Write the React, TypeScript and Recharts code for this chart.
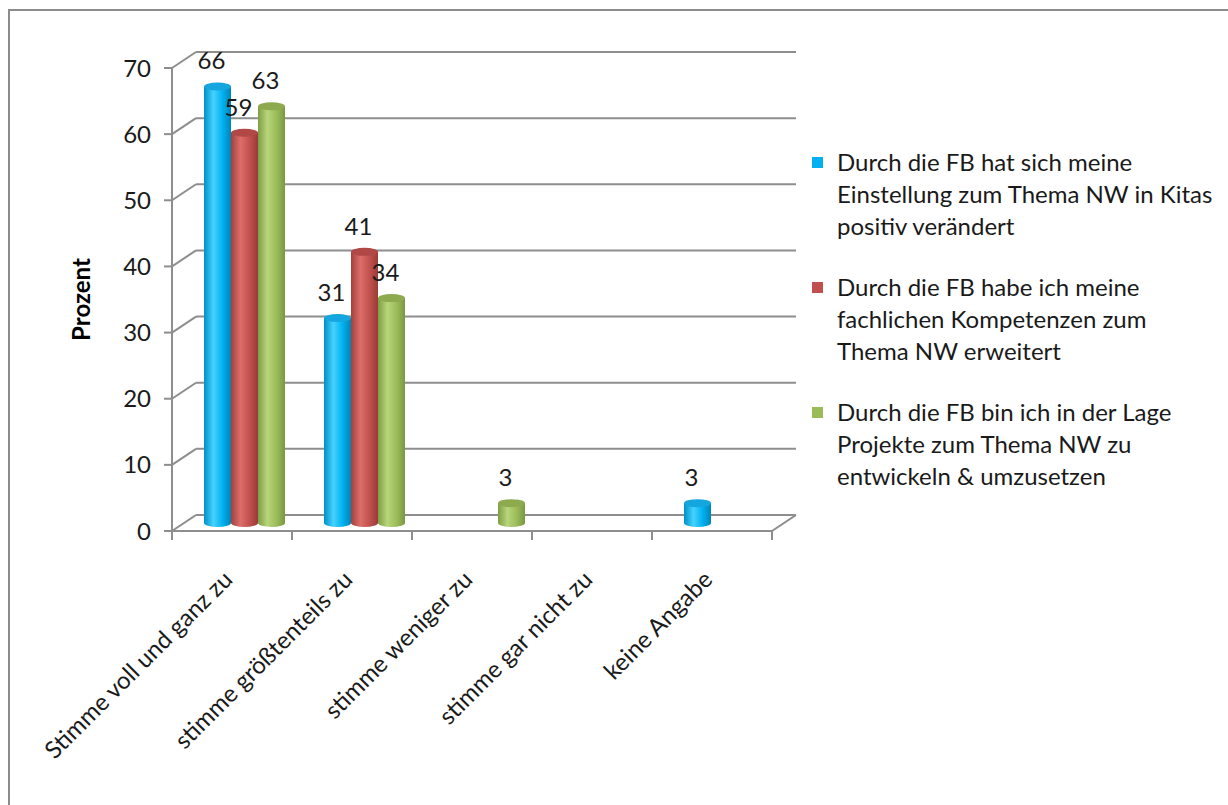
import { BarChart, Bar, XAxis, YAxis, CartesianGrid, Legend, LabelList } from "recharts";

const categories = [
  "Stimme voll und ganz zu",
  "stimme größtenteils zu",
  "stimme weniger zu",
  "stimme gar nicht zu",
  "keine Angabe",
];

// Prozentwerte je Aussage
const einstellung = [66, 31, 0, 0, 3];
const kompetenzen = [59, 41, 0, 0, 0];
const projekte = [63, 34, 3, 0, 0];

const legendLines = [
  ["Durch die FB hat sich meine", "Einstellung zum Thema NW in Kitas", "positiv verändert"],
  ["Durch die FB habe ich meine", "fachlichen Kompetenzen zum", "Thema NW erweitert"],
  ["Durch die FB bin ich in der Lage", "Projekte zum Thema NW zu", "entwickeln & umzusetzen"],
];

const yTicks = [0, 10, 20, 30, 40, 50, 60, 70];

const data = categories.map((category, i) => ({
  category,
  einstellung: einstellung[i],
  kompetenzen: kompetenzen[i],
  projekte: projekte[i],
}));

const FONT = "Lato, 'Open Sans', sans-serif";
const FS = 24;
const TEXT = "#1a1a1a";
const GRID = "#8e8e8e";
const COLORS = ["#00B0F0", "#C0504D", "#9BBB59"];

// Chart geometry (svg coordinates)
const CHART_W = 1218;
const CHART_H = 794;
const PLOT_LEFT = 162;
const PLOT_TOP = 57;
const PLOT_W = 600;
const PLOT_H = 463;
const PLOT_BOTTOM = PLOT_TOP + PLOT_H;
const Y_AXIS_W = 60;
const X_AXIS_H = 150;
const BAND = PLOT_W / categories.length;

// depth of the pseudo-3D frame; bars sit half way back
const DX = 24;
const DY = -16;
const SX = DX / 2;
const SY = DY / 2;
const RY = 4;

const gradients = [
  { id: "cylBlue", stops: ["#0090c8", "#45d2ff", "#00b0f0", "#0084b8"], top: "#14a6de" },
  { id: "cylRed", stops: ["#a33f3c", "#dc6e6a", "#c0504d", "#993b38"], top: "#b04845" },
  { id: "cylGreen", stops: ["#7e9d45", "#b8d67a", "#9bbb59", "#7a9742"], top: "#8daa4f" },
];

const makeCylinder = (g: number) => (props: any) => {
  const { x, y, width, height, value } = props;
  if (!value || height <= 0) return <g />;
  const left = x + SX;
  const right = left + width;
  const top = y + SY;
  const bottom = y + height + SY;
  const rx = width / 2;
  const grad = gradients[g];
  return (
    <g>
      <path
        d={`M${left},${top} L${left},${bottom} A${rx},${RY} 0 0 0 ${right},${bottom} L${right},${top} Z`}
        fill={`url(#${grad.id})`}
      />
      <ellipse cx={left + rx} cy={top} rx={rx} ry={RY} fill={grad.top} />
    </g>
  );
};

const ValueLabel = (props: any) => {
  const { x, y, width, value } = props;
  if (!value) return null;
  return (
    <text
      x={x + width / 2 + SX - 6}
      y={y + SY - 17}
      textAnchor="middle"
      fontSize={FS}
      fontFamily={FONT}
      fill={TEXT}
    >
      {value}
    </text>
  );
};

// back wall gridline with its diagonal on the side wall
const WallLine = (props: any) => {
  const { x1, y1, x2, y2 } = props;
  const isFloor = Math.abs(y1 - PLOT_BOTTOM) < 1;
  return (
    <g stroke={GRID} strokeWidth={2} fill="none">
      <line x1={x1} y1={y1} x2={x1 + DX} y2={y1 + DY} />
      <line x1={x1 + DX} y1={y1 + DY} x2={x2 + DX} y2={y2 + DY} />
      {isFloor && <line x1={x2} y1={y2} x2={x2 + DX} y2={y2 + DY} />}
    </g>
  );
};

const CategoryTick = (props: any) => {
  const { x, payload, index } = props;
  const left = x - BAND / 2;
  const last = index === categories.length - 1;
  const ax = x + 2;
  const ay = PLOT_BOTTOM + 50;
  return (
    <g>
      <line x1={left} y1={PLOT_BOTTOM} x2={left} y2={PLOT_BOTTOM + 9} stroke={GRID} strokeWidth={2} />
      {last && (
        <line x1={left + BAND} y1={PLOT_BOTTOM} x2={left + BAND} y2={PLOT_BOTTOM + 9} stroke={GRID} strokeWidth={2} />
      )}
      <text
        x={ax}
        y={ay}
        textAnchor="end"
        transform={`rotate(-45 ${ax} ${ay})`}
        fontSize={FS}
        fontFamily={FONT}
        fill={TEXT}
      >
        {payload.value}
      </text>
    </g>
  );
};

const AxisTitle = (props: any) => {
  const { viewBox } = props;
  const cx = viewBox.x - 32;
  const cy = PLOT_TOP + PLOT_H / 2;
  return (
    <text
      x={cx}
      y={cy}
      transform={`rotate(-90 ${cx} ${cy})`}
      textAnchor="middle"
      dominantBaseline="central"
      fontSize={FS}
      fontWeight="bold"
      fontFamily={FONT}
      fill="#000"
    >
      Prozent
    </text>
  );
};

const renderLegend = () => (
  <div style={{ fontFamily: FONT, fontSize: FS, color: TEXT, lineHeight: "32px" }}>
    {legendLines.map((lines, i) => (
      <div key={i} style={{ display: "flex", marginBottom: 29 }}>
        <span
          style={{
            width: 11,
            height: 11,
            background: COLORS[i],
            marginTop: 11,
            marginRight: 14,
            flex: "none",
          }}
        />
        <div>
          {lines.map((l) => (
            <div key={l} style={{ whiteSpace: "nowrap" }}>
              {l}
            </div>
          ))}
        </div>
      </div>
    ))}
  </div>
);

export default function App() {
  return (
    <div
      style={{
        position: "fixed",
        left: 8,
        top: 9,
        width: 1240,
        height: 820,
        borderTop: "2px solid #8c8c8c",
        borderLeft: "2px solid #8c8c8c",
        background: "#fff",
      }}
    >
      <BarChart
        width={CHART_W}
        height={CHART_H}
        data={data}
        barGap={0}
        barCategoryGap={20}
        margin={{
          top: PLOT_TOP,
          right: CHART_W - PLOT_LEFT - PLOT_W,
          bottom: CHART_H - PLOT_BOTTOM - X_AXIS_H,
          left: PLOT_LEFT - Y_AXIS_W,
        }}
      >
        <defs>
          {gradients.map((g) => (
            <linearGradient key={g.id} id={g.id} x1="0" y1="0" x2="1" y2="0">
              <stop offset="0%" stopColor={g.stops[0]} />
              <stop offset="35%" stopColor={g.stops[1]} />
              <stop offset="70%" stopColor={g.stops[2]} />
              <stop offset="100%" stopColor={g.stops[3]} />
            </linearGradient>
          ))}
        </defs>
        <CartesianGrid vertical={false} horizontal={(p: any) => <WallLine key={p.key} {...p} />} />
        <XAxis
          dataKey="category"
          interval={0}
          height={X_AXIS_H}
          axisLine={{ stroke: GRID, strokeWidth: 2 }}
          tickLine={false}
          tick={<CategoryTick />}
        />
        <YAxis
          width={Y_AXIS_W}
          domain={[0, 70]}
          ticks={yTicks}
          interval={0}
          axisLine={{ stroke: GRID, strokeWidth: 2 }}
          tickLine={{ stroke: GRID, strokeWidth: 2 }}
          tickSize={8}
          tickMargin={13}
          tick={{ fill: TEXT, fontSize: FS, fontFamily: FONT }}
          label={<AxisTitle />}
        />
        <Legend
          layout="horizontal"
          verticalAlign="middle"
          align="center"
          content={renderLegend}
          wrapperStyle={{ left: 802, top: 135, width: 416 }}
        />
        <Bar dataKey="einstellung" name={legendLines[0].join(" ")} fill={COLORS[0]} shape={makeCylinder(0)} isAnimationActive={false}>
          <LabelList dataKey="einstellung" content={<ValueLabel />} />
        </Bar>
        <Bar dataKey="kompetenzen" name={legendLines[1].join(" ")} fill={COLORS[1]} shape={makeCylinder(1)} isAnimationActive={false}>
          <LabelList dataKey="kompetenzen" content={<ValueLabel />} />
        </Bar>
        <Bar dataKey="projekte" name={legendLines[2].join(" ")} fill={COLORS[2]} shape={makeCylinder(2)} isAnimationActive={false}>
          <LabelList dataKey="projekte" content={<ValueLabel />} />
        </Bar>
      </BarChart>
    </div>
  );
}
